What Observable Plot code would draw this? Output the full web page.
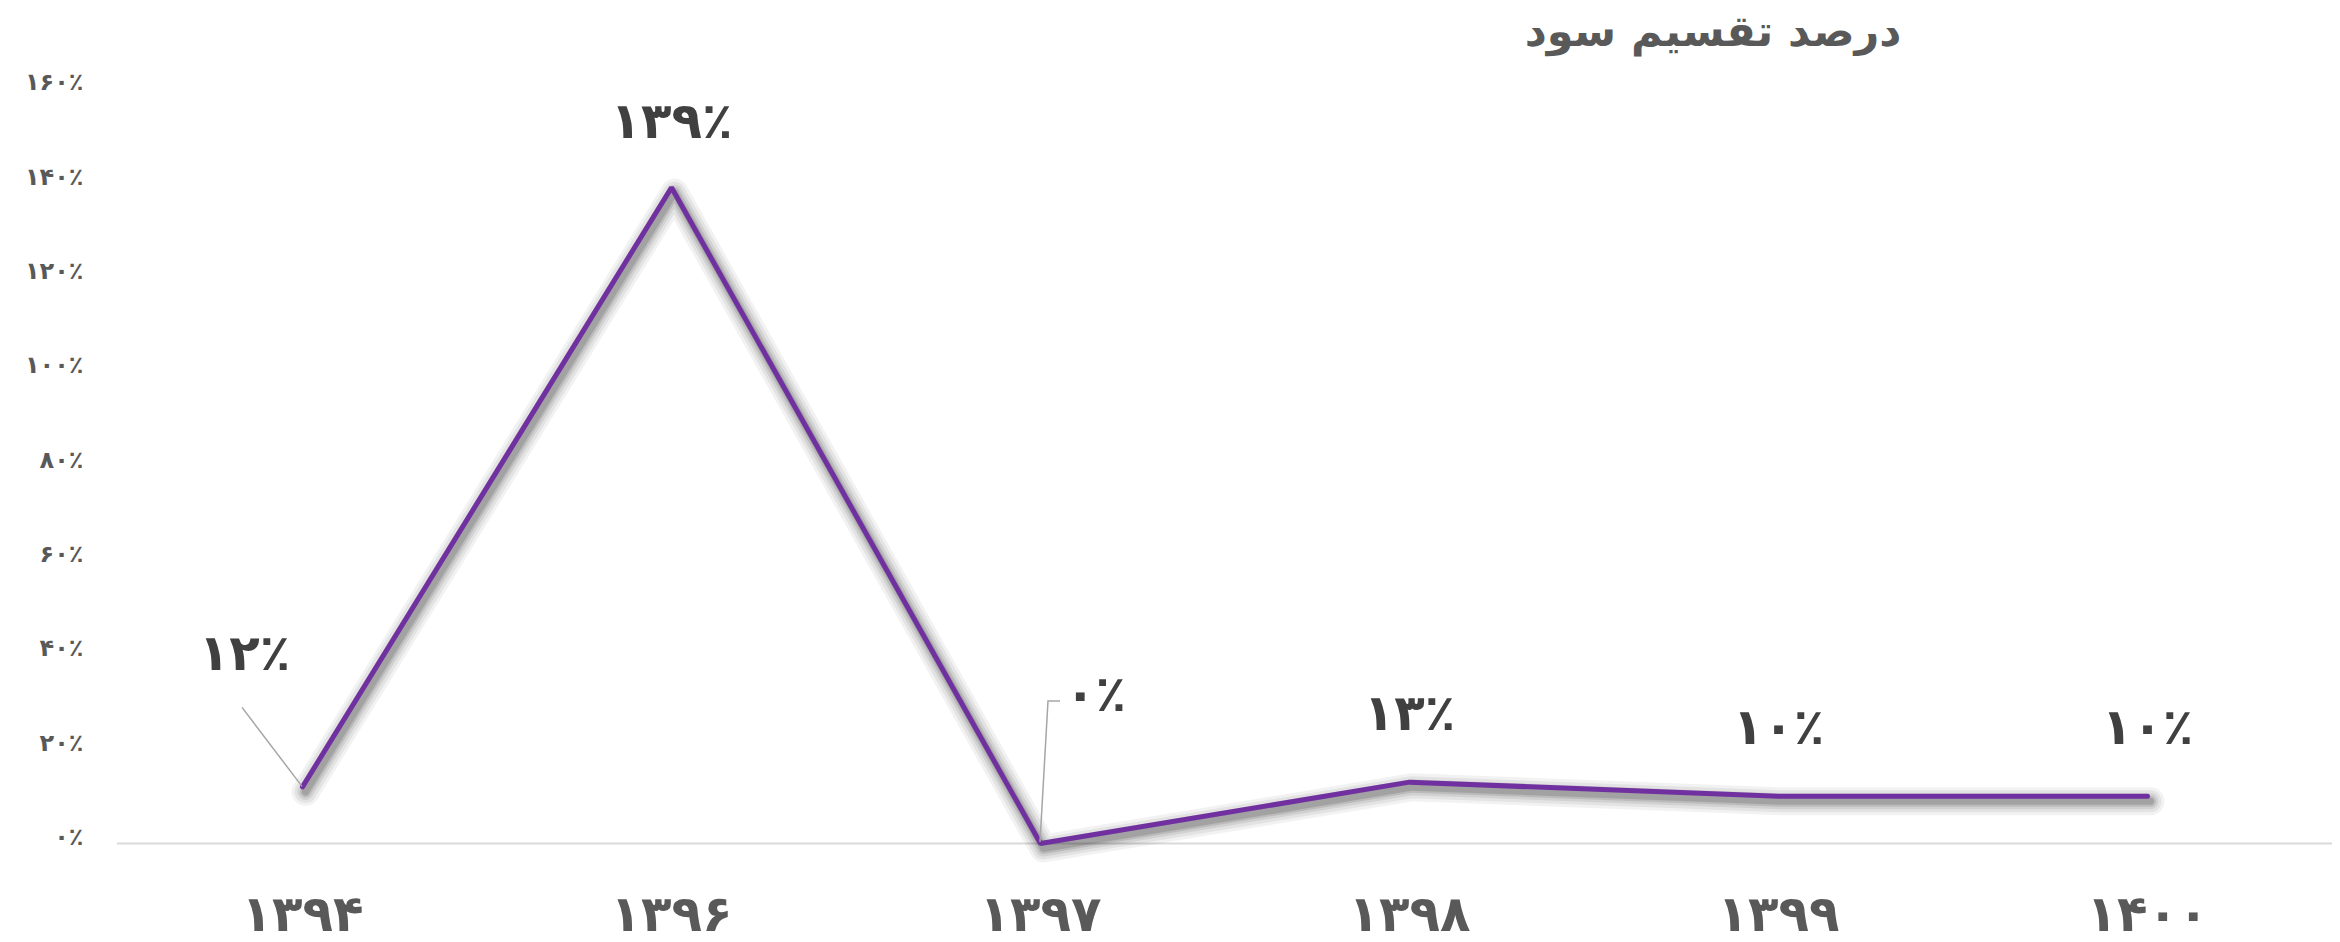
<!DOCTYPE html>
<html><head><meta charset="utf-8">
<script src="https://cdn.jsdelivr.net/npm/d3@7"></script>
<script src="https://cdn.jsdelivr.net/npm/@observablehq/plot@0.6"></script>
<style>
html,body{margin:0;padding:0;background:#fff;}
#wrap{position:relative;width:2340px;height:942px;}
#title{position:absolute;left:1413px;top:6px;width:600px;text-align:center;white-space:nowrap;font-family:"DejaVu Sans",sans-serif;font-weight:bold;font-size:43px;color:#595959;direction:rtl;}
</style>
</head><body>
<div id="wrap"><div id="title"></div></div>
<script>
const titleText = "درصد تقسیم سود";
const years = ["۱۳۹۴","۱۳۹۶","۱۳۹۷","۱۳۹۸","۱۳۹۹","۱۴۰۰"];
const values = [0.12, 1.39, 0.00, 0.13, 0.10, 0.10];
const labels = ["۱۲٪","۱۳۹٪","۰٪","۱۳٪","۱۰٪","۱۰٪"];
const yTicks = [0,0.2,0.4,0.6,0.8,1.0,1.2,1.4,1.6];

// style/layout offsets for data labels (pixels)
const labelDx = [-58, 0, 55, 0, 0, 0];
const labelDy = [-133, -66, -149, -68, -68, -68];

const fa = n => String(n).replace(/\d/g, d => "۰۱۲۳۴۵۶۷۸۹"[d]);
const fmtPct = v => fa(Math.round(v*100)) + "٪";

const data = years.map((y,i)=>({year:y, value:values[i], label:labels[i], dx:labelDx[i], dy:labelDy[i]}));

document.getElementById("title").textContent = titleText;

// layered soft shadow under the line (widths/opacities)
const shadowLayers = [[28,0.05],[22,0.06],[16,0.08],[11,0.1],[7,0.13]];

const font = "DejaVu Sans, sans-serif";
const plot = Plot.plot({
  width: 2340, height: 942,
  marginLeft: 117, marginRight: 8, marginTop: 88, marginBottom: 99,
  style: {fontFamily: font, background: "#fff"},
  x: {type: "point", domain: years, padding: 0.5},
  y: {domain: [0, 1.6]},
  marks: [
    Plot.ruleY([0], {stroke: "#D9D9D9", strokeWidth: 2}),
    Plot.axisY({ticks: yTicks, tickFormat: fmtPct, tickSize: 0, tickPadding: 34, fontSize: 24, fontWeight: "bold", fill: "#595959", dy: -6, label: null}),
    Plot.axisX({tickSize: 0, tickPadding: 52, fontSize: 50, fontWeight: "bold", fill: "#595959", label: null}),
    ...shadowLayers.map(([w,o]) => Plot.line(data, {x: "year", y: "value", stroke: "#000", strokeOpacity: o, strokeWidth: w, dx: 3, dy: 5, strokeLinejoin: "round", strokeLinecap: "round"})),
    Plot.line(data, {x: "year", y: "value", stroke: "#7030A0", strokeWidth: 5, strokeLinejoin: "miter", strokeLinecap: "round"}),
    ...data.map(d => Plot.text([d], {x: "year", y: "value", text: "label", dx: d.dx, dy: d.dy, fontSize: 50, fill: "#404040", fontWeight: "bold"}))
  ]
});
document.getElementById("wrap").prepend(plot);

const svg = d3.select(plot);
// leader lines for the offset labels, computed via the plot's scales
const sx = plot.scale("x"), sy = plot.scale("y");
const leaders = [
  {i: 0, pts: [[-60,-79],[0,0]]},
  {i: 2, pts: [[20,-142],[8,-142],[0,-1]]}
];
leaders.forEach(L => {
  const px = sx.apply(years[L.i]), py = sy.apply(values[L.i]);
  svg.append("path")
    .attr("d", d3.line()(L.pts.map(p => [px + p[0], py + p[1]])))
    .attr("fill", "none").attr("stroke", "#A6A6A6").attr("stroke-width", 1.5);
});
</script>
</body></html>
